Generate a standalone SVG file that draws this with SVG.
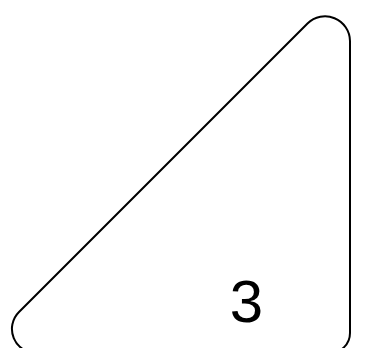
<svg xmlns="http://www.w3.org/2000/svg" width="376" height="348" viewBox="0 0 376 348">
<style>
.shape{fill:#ffffff;stroke:#000000;stroke-width:2}
.lbl{font-family:"Liberation Sans",Arial,sans-serif;font-size:60px;fill:#000000;text-anchor:middle}
</style>
<rect width="376" height="348" fill="#ffffff"/>
<g id="node-triangle">
<path class="shape" d="M 307.5 23.5 A 25 25 0 0 1 350 41 L 350 333 A 20 20 0 0 1 330 353 L 35.9 353 A 24 24 0 0 1 19 312 Z"/>
<text class="lbl" x="246.5" y="322">3</text>
</g>
<g id="connectors"></g>
</svg>
